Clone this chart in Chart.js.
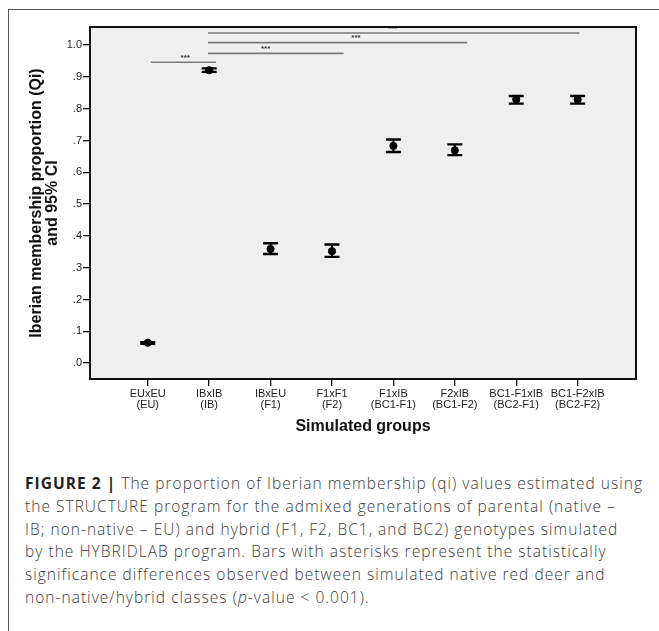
<!DOCTYPE html>
<html>
<head>
<meta charset="utf-8">
<script src="https://cdn.jsdelivr.net/npm/chart.js@4"></script>
<style>
  html, body { margin: 0; padding: 0; background: #fff; }
  body { width: 659px; height: 631px; position: relative; overflow: hidden; }
  #frame { position: absolute; left: 8px; top: 9px; width: 660px; height: 640px;
           border-left: 1.5px solid #555; border-top: 1.5px solid #555; }
  #wrap { position: absolute; left: 0; top: 0; width: 659px; height: 445px; }
  #caption { position: absolute; left: 25px; top: 472px; width: 634px;
             font-family: "Open Sans", "Liberation Sans", sans-serif; font-size: 15.5px;
             font-weight: 300; line-height: 22.8px; color: #3a3a3a; white-space: nowrap; }
  #caption b { color: #222; font-weight: bold; }
</style>
</head>
<body>
<div id="frame"></div>
<div id="wrap"><canvas id="myChart"></canvas></div>
<div id="caption">
  <div id="cap1"><b>FIGURE 2 |</b> The proportion of Iberian membership (qi) values estimated using</div>
  <div>the STRUCTURE program for the admixed generations of parental (native –</div>
  <div>IB; non-native – EU) and hybrid (F1, F2, BC1, and BC2) genotypes simulated</div>
  <div>by the HYBRIDLAB program. Bars with asterisks represent the statistically</div>
  <div>significance differences observed between simulated native red deer and</div>
  <div>non-native/hybrid classes (<i>p</i>-value &lt; 0.001).</div>
</div>
<script>
// groups (two-line labels)
const groupNames = ['EUxEU', 'IBxIB', 'IBxEU', 'F1xF1', 'F1xIB', 'F2xIB', 'BC1-F1xIB', 'BC1-F2xIB'];
const groupCodes = ['(EU)', '(IB)', '(F1)', '(F2)', '(BC1-F1)', '(BC1-F2)', '(BC2-F1)', '(BC2-F2)'];

// mean Qi and 95% CI
const qiMean = [0.064, 0.921, 0.359, 0.352, 0.683, 0.669, 0.829, 0.829];
const ciLow  = [0.061, 0.916, 0.343, 0.334, 0.664, 0.654, 0.816, 0.816];
const ciHigh = [0.066, 0.927, 0.377, 0.373, 0.703, 0.688, 0.840, 0.840];

// y ticks
const yTickValues = [0, 0.1, 0.2, 0.3, 0.4, 0.5, 0.6, 0.7, 0.8, 0.9, 1.0];
const yTickLabels = ['.0', '.1', '.2', '.3', '.4', '.5', '.6', '.7', '.8', '.9', '1.0'];

// significance bars (*** p < 0.001)
const sigFrom   = [0.05, 0.98, 0.98, 0.98];
const sigTo     = [1.11, 3.19, 5.20, 7.03];
const sigLevel  = [0.946, 0.974, 1.008, 1.038];
const sigStarX  = [0.61, 1.92, 3.39, 3.99];

const points = qiMean.map((v, i) => ({x: i, y: v}));

const sigDatasets = sigFrom.map((f, i) => ({
    type: 'line',
    data: [{x: f, y: sigLevel[i]}, {x: sigTo[i], y: sigLevel[i]}],
    borderColor: '#7a7a7a',
    borderWidth: 1.6,
    pointRadius: 0,
    showLine: true
}));

// grey plot background + black box
const plotBox = {
    id: 'plotBox',
    beforeDraw(chart) {
        const {ctx, chartArea: a} = chart;
        ctx.save();
        ctx.fillStyle = '#efefef';
        ctx.fillRect(a.left, a.top, a.right - a.left, a.bottom - a.top);
        ctx.restore();
    },
    afterDraw(chart) {
        const {ctx, chartArea: a} = chart;
        ctx.save();
        ctx.strokeStyle = '#111';
        ctx.lineWidth = 2;
        ctx.strokeRect(a.left, a.top, a.right - a.left, a.bottom - a.top);
        ctx.restore();
    }
};

// error bars and stars
const errorBars = {
    id: 'errorBars',
    afterDatasetsDraw(chart) {
        const {ctx, scales: {x, y}} = chart;
        ctx.save();
        ctx.strokeStyle = '#000';
        qiMean.forEach((v, i) => {
            const px = x.getPixelForValue(i);
            const lo = y.getPixelForValue(ciLow[i]);
            const hi = y.getPixelForValue(ciHigh[i]);
            ctx.lineWidth = 2;
            ctx.beginPath();
            ctx.moveTo(px, lo);
            ctx.lineTo(px, hi);
            ctx.stroke();
            ctx.lineWidth = 2.4;
            ctx.beginPath();
            ctx.moveTo(px - 7.5, lo);
            ctx.lineTo(px + 7.5, lo);
            ctx.moveTo(px - 7.5, hi);
            ctx.lineTo(px + 7.5, hi);
            ctx.stroke();
        });
        ctx.fillStyle = '#333';
        ctx.font = 'bold 8px "Liberation Sans", Arial, sans-serif';
        ctx.textAlign = 'center';
        ctx.textBaseline = 'bottom';
        sigStarX.forEach((sx, i) => {
            ctx.fillText('***', x.getPixelForValue(sx), y.getPixelForValue(sigLevel[i]) - 0.5);
        });
        ctx.restore();
    }
};

const tickFont = {family: '"Liberation Sans", Arial, sans-serif', size: 11, lineHeight: 1.0};

const config = {
    type: 'scatter',
    data: {
        datasets: [
            {
                data: points,
                backgroundColor: '#000',
                borderColor: '#000',
                pointRadius: 3.6,
                pointHoverRadius: 3.6
            },
            ...sigDatasets
        ]
    },
    options: {
        responsive: true,
        maintainAspectRatio: false,
        animation: false,
        layout: {
            padding: {top: 27, right: 23, left: 0, bottom: 0}
        },
        plugins: {
            legend: {display: false},
            tooltip: {enabled: false}
        },
        scales: {
            x: {
                type: 'linear',
                min: -0.94,
                max: 7.95,
                afterFit: (scale) => { scale.height = 66; },
                afterBuildTicks: (scale) => {
                    scale.ticks = groupNames.map((g, i) => ({value: i}));
                },
                grid: {
                    drawOnChartArea: false,
                    drawTicks: true,
                    tickLength: 7,
                    color: '#111',
                    lineWidth: 1.3
                },
                border: {display: false},
                ticks: {
                    autoSkip: false,
                    maxRotation: 0,
                    padding: 2,
                    color: '#1a1a1a',
                    font: tickFont,
                    callback: function(value, index) {
                        return [groupNames[index], groupCodes[index]];
                    }
                },
                title: {
                    display: true,
                    text: 'Simulated groups',
                    color: '#111',
                    padding: {top: 0, bottom: 8.5},
                    font: {family: '"Liberation Sans", Arial, sans-serif', size: 16, weight: 'bold', lineHeight: 1.2}
                }
            },
            y: {
                min: -0.05,
                max: 1.057,
                afterFit: (scale) => { scale.width = 90; },
                afterBuildTicks: (scale) => {
                    scale.ticks = yTickValues.map(v => ({value: v}));
                },
                grid: {
                    drawOnChartArea: false,
                    drawTicks: true,
                    tickLength: 7,
                    color: '#111',
                    lineWidth: 1.3
                },
                border: {display: false},
                ticks: {
                    padding: 1,
                    color: '#1a1a1a',
                    font: tickFont,
                    callback: function(value, index) {
                        return yTickLabels[index];
                    }
                },
                title: {
                    display: true,
                    text: ['Iberian membership proportion (Qi)', 'and 95% CI'],
                    color: '#111',
                    padding: {top: 29, bottom: 0},
                    font: {family: '"Liberation Sans", Arial, sans-serif', size: 16, weight: 'bold', lineHeight: 1.0}
                }
            }
        }
    },
    plugins: [plotBox, errorBars]
};

let myChart = new Chart(document.getElementById('myChart'), config);

// spread the caption so that its first line fills the width as in the figure
const cap = document.getElementById('caption');
const cap1 = document.getElementById('cap1');
const range = document.createRange();
range.selectNodeContents(cap1);
const w = range.getBoundingClientRect().width;
const spacing = (618 - w) / cap1.textContent.trim().length;
cap.style.letterSpacing = spacing.toFixed(3) + 'px';
</script>
</body>
</html>
